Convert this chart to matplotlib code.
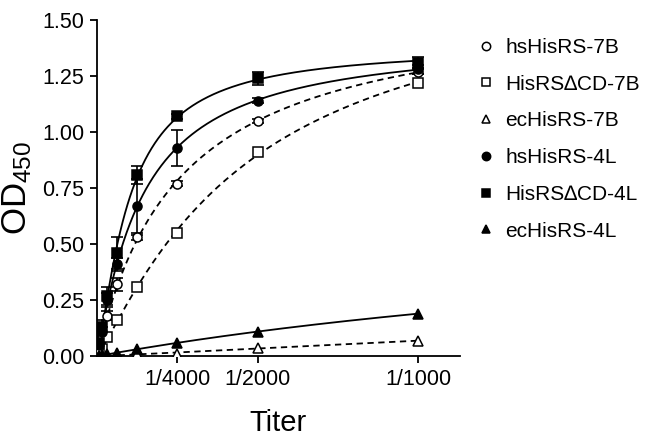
import numpy as np
import matplotlib
matplotlib.use("Agg")
import matplotlib.pyplot as plt

plt.rcParams["font.family"] = ["Liberation Sans", "DejaVu Sans"]
plt.rcParams["mathtext.default"] = "regular"

# dilution titers (reciprocal) -> plotted as fraction 1/titer
titer = np.array([1000, 2000, 4000, 8000, 16000, 32000, 64000, 128000])

labels = ["hsHisRS-7B", "HisRS\u2206CD-7B", "ecHisRS-7B",
          "hsHisRS-4L", "HisRS\u2206CD-4L", "ecHisRS-4L"]

hs_7b = [1.27, 1.05, 0.77, 0.53, 0.32, 0.18, 0.08, 0.03]
dcd_7b = [1.22, 0.91, 0.55, 0.31, 0.16, 0.085, 0.03, 0.01]
ec_7b = [0.07, 0.035, 0.01, 0.01, 0.01, 0.005, 0.0, 0.0]
hs_4l = [1.28, 1.14, 0.93, 0.67, 0.41, 0.25, 0.11, 0.05]
dcd_4l = [1.31, 1.24, 1.07, 0.81, 0.46, 0.27, 0.13, 0.06]
ec_4l = [0.19, 0.11, 0.06, 0.03, 0.015, 0.01, 0.005, 0.0]

err_hs_4l = [0.02, 0.01, 0.08, 0.12, 0.03, 0.03, 0.02, 0.01]
err_dcd_4l = [0.025, 0.03, 0.01, 0.04, 0.07, 0.04, 0.03, 0.02]
err_hs_7b = [0.01, 0.01, 0.01, 0.01, 0.03, 0.02, 0.01, 0.01]

series = [hs_7b, dcd_7b, ec_7b, hs_4l, dcd_4l, ec_4l]
errors = [err_hs_7b, None, None, err_hs_4l, err_dcd_4l, None]
markers = ["o", "s", "^", "o", "s", "^"]
filled = [False, False, False, True, True, True]


def hill_fit(x, y):
    """grid search for y = B x^n / (K^n + x^n), B solved by least squares"""
    best = None
    for n in np.linspace(0.8, 2.0, 25):
        for k in np.geomspace(0.01, 20, 300):
            f = x ** n / (k ** n + x ** n)
            b = float(np.dot(f, y) / np.dot(f, f))
            sse = float(np.sum((y - b * f) ** 2))
            if best is None or sse < best[0]:
                best = (sse, b, k, n)
    return best[1:]


x = 1.0 / titer
xs = x * 1000  # scaled for fitting
xx = np.linspace(0, 1.0, 400)

fig = plt.figure(figsize=(6.46, 4.36), dpi=100)
ax = fig.add_axes([0.150, 0.183, 0.562, 0.771])

for y, err, m, fill, lab in zip(series, errors, markers, filled, labels):
    y = np.array(y)
    b, k, n = hill_fit(xs, y)
    ls = "-" if fill else (0, (3.5, 2.5))
    ax.plot(xx / 1000, b * xx ** n / (k ** n + xx ** n), color="black", lw=1.3, ls=ls, zorder=2)
    if err is not None:
        ax.errorbar(x, y, yerr=err, fmt="none", ecolor="black", elinewidth=1.2,
                    capsize=4, capthick=1.2, zorder=3)
    ms = 7 if m == "s" and fill else 6.5
    ax.plot(x, y, ls="none", marker=m, ms=ms, mec="black", mew=1.1,
            mfc="black" if fill else "white", zorder=4, label=lab)

ax.set_xlim(0, 0.00113)
ax.set_ylim(0, 1.5)
ax.set_yticks(np.arange(0, 1.51, 0.25))
ax.set_yticklabels([f"{v:.2f}" for v in np.arange(0, 1.51, 0.25)])
ax.set_xticks([1 / 4000, 1 / 2000, 1 / 1000])
ax.set_xticklabels(["1/4000", "1/2000", "1/1000"])
ax.tick_params(labelsize=15.5, width=1.3, length=5, direction="out", pad=4)
for s in ["top", "right"]:
    ax.spines[s].set_visible(False)
for s in ["left", "bottom"]:
    ax.spines[s].set_linewidth(1.3)

ax.set_xlabel("Titer", fontsize=21, labelpad=14)
ax.set_ylabel("OD$_{450}$", fontsize=25, labelpad=6)

leg_handles = []
for m, fill in zip(markers, filled):
    leg_handles.append(plt.Line2D([], [], ls="none", marker=m, ms=6, mec="black", mew=1.1,
                                  mfc="black" if fill else "white"))
fig.legend(leg_handles, labels, loc="upper left", bbox_to_anchor=(0.727, 0.932),
           frameon=False, fontsize=15, handlelength=0.8, handletextpad=0.5,
           labelspacing=0.85, borderaxespad=0)

fig.savefig("out.png", dpi=100)
